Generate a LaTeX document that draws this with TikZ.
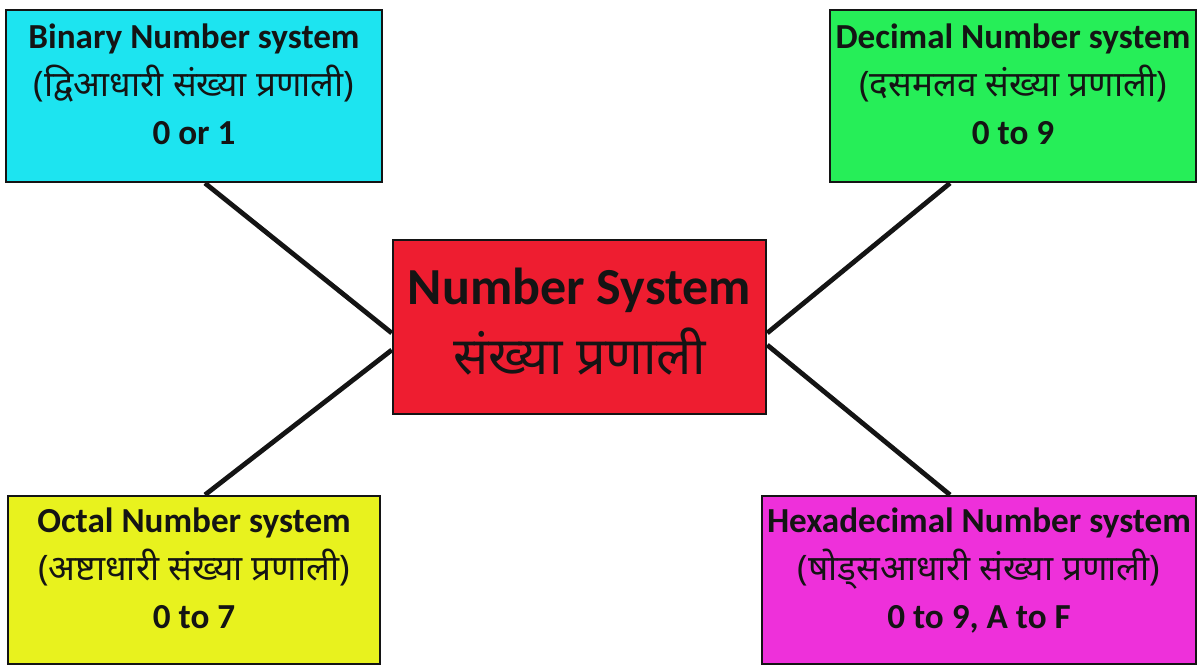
\documentclass[tikz,border=0pt]{standalone}
\usepackage{fontspec}
\setmainfont{Carlito}
\newfontfamily\deva[Script=Devanagari]{Noto Sans}
\usetikzlibrary{positioning,calc}
\definecolor{BinCyan}{HTML}{1DE4F0}
\definecolor{DecGreen}{HTML}{26EE58}
\definecolor{SysRed}{HTML}{EE1D30}
\definecolor{OctYellow}{HTML}{E8F21E}
\definecolor{HexPink}{HTML}{EE30DA}
\definecolor{Ink}{HTML}{141414}

\begin{document}
\begin{tikzpicture}[x=0.025cm,y=-0.025cm,
    sysbox/.style={draw=Ink,line width=1.6pt,align=center,inner sep=0pt,text=Ink,
      text depth=17pt,font=\bfseries\fontsize{25}{34}\selectfont},
    link/.style={draw=Ink,line width=3.4pt}]
  \useasboundingbox[fill=white] (0,0) rectangle (1198,666);
  \node[sysbox,fill=SysRed,minimum width=9.33cm,minimum height=4.35cm,text depth=8pt,
    font=\bfseries\fontsize{37}{50}\selectfont] (ns) at (579.5,327)
    {Number System\\{\deva\mdseries संख्या प्रणाली}};
  \node[sysbox,fill=BinCyan,minimum width=9.4cm,minimum height=4.3cm] (bin) at (194,96)
    {Binary Number system\\{\deva\mdseries (द्विआधारी संख्या प्रणाली)}\\0 or 1};
  \node[sysbox,fill=DecGreen,minimum width=9.15cm,minimum height=4.3cm] (dec) at (1013,96)
    {Decimal Number system\\{\deva\mdseries (दसमलव संख्या प्रणाली)}\\0 to 9};
  \node[sysbox,fill=OctYellow,minimum width=9.3cm,minimum height=4.2cm] (oct) at (194,580)
    {Octal Number system\\{\deva\mdseries (अष्टाधारी संख्या प्रणाली)}\\0 to 7};
  \node[sysbox,fill=HexPink,minimum width=10.85cm,minimum height=4.2cm] (hex) at (979,580)
    {Hexadecimal Number system\\{\deva\mdseries (षोड्सआधारी संख्या प्रणाली)}\\0 to 9, A to F};
  \foreach \u/\du/\v/\dv in {bin.south/11/ns.west/6,dec.south/-63/ns.east/6,
      oct.north/11/ns.west/23,hex.north/-29/ns.east/18}
    \draw[link] ($(\u)+(\du,0)$) -- ($(\v)+(0,\dv)$);
\end{tikzpicture}
\end{document}
